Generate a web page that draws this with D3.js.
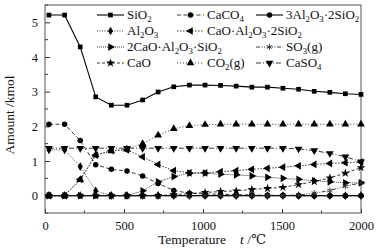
<!DOCTYPE html>
<html>
<head>
<meta charset="utf-8">
<script src="https://cdn.jsdelivr.net/npm/d3@7"></script>
<style>
  body { margin: 0; background: #fff; }
  svg, svg text { font-family: "Liberation Serif", "DejaVu Serif", serif; }
</style>
</head>
<body>
<svg id="chart" width="389" height="251"></svg>
<script>
// Temperatures (°C) of the computed points
const temps = [25, 124, 223, 321, 420, 519, 618, 716, 815, 914, 1013, 1111, 1210, 1309, 1408, 1506, 1605, 1704, 1803, 1901, 2000];

// Amounts (kmol)
const sio2      = [5.21, 5.21, 4.29, 2.85, 2.61, 2.61, 2.76, 2.99, 3.14, 3.19, 3.19, 3.18, 3.16, 3.13, 3.13, 3.10, 3.07, 3.01, 2.98, 2.94, 2.92];
const caco4     = [2.06, 2.06, 1.59, 0.89, 0.76, 0.71, 0.57, 0.35, 0.15, 0.07, 0.05, 0.04, 0.03, 0.02, 0.01, 0.01, 0, 0, 0, 0, 0];
const mullite   = [0, 0, 0, 0, 0, 0, 0, 0, 0, 0, 0, 0, 0, 0, 0, 0, 0, 0, 0, 0, 0];
const al2o3     = [1.32, 1.32, 0.84, 0.14, 0, 0, 0, 0, 0, 0, 0, 0, 0, 0, 0, 0, 0, 0, 0, 0, 0];
const anorthite = [0, 0, 0.47, 1.17, 1.30, 1.32, 1.12, 0.90, 0.72, 0.66, 0.66, 0.69, 0.72, 0.76, 0.79, 0.82, 0.86, 0.90, 0.93, 0.95, 0.97];
const gehlenite = [0, 0, 0, 0, 0, 0, 0.14, 0.40, 0.55, 0.65, 0.65, 0.62, 0.60, 0.57, 0.53, 0.50, 0.47, 0.43, 0.40, 0.37, 0.37];
const so3       = [0, 0, 0, 0, 0, 0, 0, 0, 0, 0, 0, 0, 0, 0, 0, 0, 0.02, 0.07, 0.15, 0.27, 0.37];
const cao       = [0, 0, 0, 0, 0, 0, 0, 0, 0.03, 0.06, 0.09, 0.12, 0.14, 0.18, 0.21, 0.24, 0.32, 0.41, 0.51, 0.65, 0.81];
const co2       = [0, 0, 0.46, 1.17, 1.29, 1.34, 1.50, 1.74, 1.93, 2.02, 2.05, 2.06, 2.06, 2.06, 2.06, 2.06, 2.06, 2.06, 2.06, 2.06, 2.06];
const caso4     = [1.37, 1.37, 1.37, 1.37, 1.37, 1.37, 1.37, 1.37, 1.37, 1.37, 1.37, 1.37, 1.37, 1.37, 1.37, 1.37, 1.35, 1.30, 1.22, 1.12, 0.98];

// Axis ticks
const xTicks = [0, 500, 1000, 1500, 2000];
const yTicks = [0, 1, 2, 3, 4, 5];

// Series styling + legend slot (col,row)
const series = [
  { name: 'SiO_2', values: sio2, dash: null, sym: 'square', col: 0, row: 0 },
  { name: 'CaCO_4', values: caco4, dash: '4,2.5', sym: 'circle', col: 1, row: 0 },
  { name: '3Al_2O_3·2SiO_2', values: mullite, dash: null, sym: 'circle', col: 2, row: 0 },
  { name: 'Al_2O_3', values: al2o3, dash: '1,1.5', sym: 'diamond', col: 0, row: 1 },
  { name: 'CaO·Al_2O_3·2SiO_2', values: anorthite, dash: '1.5,1.5', sym: 'left', col: 1, row: 1 },
  { name: '2CaO·Al_2O_3·SiO_2', values: gehlenite, dash: '1,1', sym: 'right', col: 0, row: 2 },
  { name: 'SO_3(g)', values: so3, dash: '4,1.5,1,1.5,1,1.5', sym: 'asterisk', col: 2, row: 2 },
  { name: 'CaO', values: cao, dash: '3,2', sym: 'star', col: 0, row: 3 },
  { name: 'CO_2(g)', values: co2, dash: '1,2', sym: 'up', col: 1, row: 3 },
  { name: 'CaSO_4', values: caso4, dash: '5,2,1,2', sym: 'down', col: 2, row: 3 }
];

const FONT = '"Liberation Serif", "DejaVu Serif", serif';
const svg = d3.select('#chart');
const margin = { top: 5, right: 28, bottom: 38, left: 45 };
const width = 389, height = 251;

const x = d3.scaleLinear().domain([0, 2000]).range([margin.left, width - margin.right]);
const y = d3.scaleLinear().domain([-0.5, 5.5]).range([height - margin.bottom, margin.top]);

// Marker shapes
const symbolFor = {
  square: { type: d3.symbolSquare, size: 22, rot: 0 },
  circle: { type: d3.symbolCircle, size: 24, rot: 0 },
  diamond: { type: d3.symbolDiamond, size: 22, rot: 0 },
  left: { type: d3.symbolTriangle, size: 26, rot: -90 },
  right: { type: d3.symbolTriangle, size: 26, rot: 90 },
  up: { type: d3.symbolTriangle, size: 26, rot: 0 },
  down: { type: d3.symbolTriangle, size: 26, rot: 180 },
  star: { type: d3.symbolStar, size: 24, rot: 0 },
  asterisk: { type: d3.symbolAsterisk, size: 26, rot: 0 }
};

function drawMarker(g, key, cx, cy) {
  const s = symbolFor[key];
  const p = g.append('path')
    .attr('d', d3.symbol().type(s.type).size(s.size)())
    .attr('transform', `translate(${cx},${cy}) rotate(${s.rot})`);
  if (key === 'asterisk') p.attr('fill', 'none').attr('stroke', '#333').attr('stroke-width', 0.9);
  else p.attr('fill', '#000');
}

// Text with chemical subscripts ("_2" -> subscript 2)
function chemText(sel, label, size) {
  const parts = label.split(/(_\d)/).filter(s => s.length);
  let down = false;
  parts.forEach(p => {
    if (p[0] === '_') {
      sel.append('tspan').attr('font-size', size * 0.68).attr('dy', down ? 0 : 3).text(p.slice(1));
      down = true;
    } else {
      sel.append('tspan').attr('dy', down ? -3 : 0).text(p);
      down = false;
    }
  });
}

// Axes with inward ticks
const xAxis = d3.axisBottom(x).tickValues(xTicks).tickSize(-4).tickSizeOuter(0).tickPadding(8).tickFormat(d3.format('d'));
const yAxis = d3.axisLeft(y).tickValues(yTicks).tickSize(-5).tickSizeOuter(0).tickPadding(7).tickFormat(d3.format('d'));

const gx = svg.append('g')
  .attr('transform', `translate(0,${y.range()[0]})`)
  .call(xAxis);
const gy = svg.append('g')
  .attr('transform', `translate(${margin.left},0)`)
  .call(yAxis);

// minor ticks
svg.append('g').selectAll('line')
  .data([250, 750, 1250, 1750])
  .enter().append('line')
  .attr('x1', d => x(d)).attr('x2', d => x(d))
  .attr('y1', y.range()[0]).attr('y2', y.range()[0] - 2.5)
  .attr('stroke', '#333');
svg.append('g').selectAll('line')
  .data([-0.5, 0.5, 1.5, 2.5, 3.5, 4.5, 5.5])
  .enter().append('line')
  .attr('x1', margin.left).attr('x2', margin.left + 3)
  .attr('y1', d => y(d)).attr('y2', d => y(d))
  .attr('stroke', '#333');

[gx, gy].forEach(g => {
  g.attr('font-family', FONT);
  g.select('.domain').remove();
  g.selectAll('.tick line').attr('stroke', '#333');
  g.selectAll('.tick text').attr('font-size', 12.5).attr('fill', '#111')
    .attr('font-family', FONT);
});

// Frame
svg.append('rect')
  .attr('x', margin.left).attr('y', margin.top)
  .attr('width', x.range()[1] - margin.left)
  .attr('height', y.range()[0] - margin.top)
  .attr('fill', 'none').attr('stroke', '#555').attr('stroke-width', 1);

// Lines and markers
const line = d3.line().x((d, i) => x(temps[i])).y(d => y(d));
series.forEach(s => {
  const g = svg.append('g');
  g.append('path')
    .attr('d', line(s.values))
    .attr('fill', 'none')
    .attr('stroke', s.dash ? '#222' : '#000')
    .attr('stroke-width', s.dash ? 0.9 : 1.1)
    .attr('stroke-dasharray', s.dash);
  s.values.forEach((v, i) => drawMarker(g, s.sym, x(temps[i]), y(v)));
});

// Legend
const legCols = [97, 177, 256];
const legRows = [15, 31, 47, 63];
const legLen = 27;
series.forEach(s => {
  const lx = legCols[s.col], ly = legRows[s.row];
  const g = svg.append('g');
  g.append('line')
    .attr('x1', lx).attr('x2', lx + legLen)
    .attr('y1', ly).attr('y2', ly)
    .attr('stroke', s.dash ? '#222' : '#000')
    .attr('stroke-width', s.dash ? 0.9 : 1.1)
    .attr('stroke-dasharray', s.dash);
  drawMarker(g, s.sym, lx + legLen / 2, ly);
  const t = g.append('text')
    .attr('x', lx + legLen + 3).attr('y', ly + 4)
    .attr('font-family', FONT)
    .attr('font-size', 13).attr('fill', '#111');
  chemText(t, s.name, 13);
});

// Axis titles
svg.append('text')
  .attr('transform', 'translate(14,115) rotate(-90)')
  .attr('text-anchor', 'middle')
  .attr('font-family', FONT)
  .attr('font-size', 13.5).attr('fill', '#111')
  .text('Amount /kmol');

const xt = svg.append('text')
  .attr('x', 158).attr('y', 244)
  .attr('font-family', FONT)
  .attr('font-size', 13.5).attr('fill', '#111');
xt.append('tspan').text('Temperature');
xt.append('tspan').attr('dx', 14).attr('font-style', 'italic').text('t');
xt.append('tspan').text(' /℃');
</script>
</body>
</html>
